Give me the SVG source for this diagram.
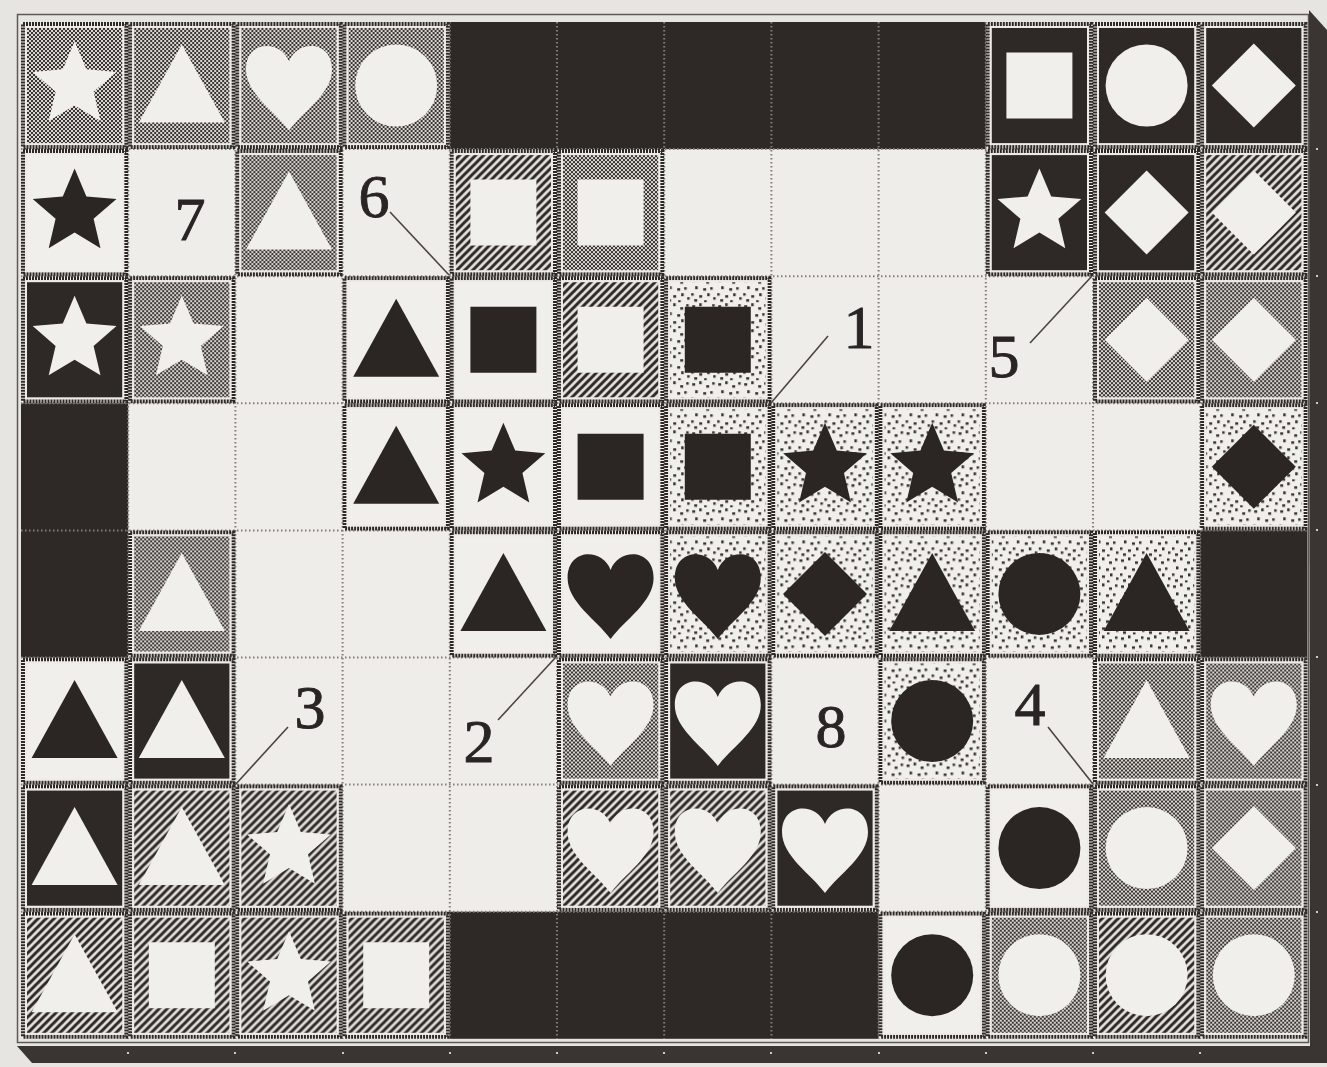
<svg xmlns="http://www.w3.org/2000/svg" xmlns:xlink="http://www.w3.org/1999/xlink" width="1327" height="1067" viewBox="0 0 1327 1067">
<style>
.fw{fill:#f1efec}
.fb{fill:#2b2624}
.dk{fill:#2e2927}
.grid line{stroke:#837d7a;stroke-width:2;stroke-dasharray:1.5 2.5}
.lead{stroke:#4a4543;stroke-width:1.6;fill:none}
.lbl{font-family:"Liberation Serif","Times New Roman",serif;font-size:62px;fill:#2a2524;stroke:#2a2524;stroke-width:0.9;text-anchor:middle}
.tick{fill:#cfcbc7}
</style>
<defs>
<pattern id="pGray" width="4" height="4" patternUnits="userSpaceOnUse"><rect width="4" height="4" fill="#d9d6d2"/><rect width="2" height="2" fill="#3a3533"/><rect x="2" y="2" width="2" height="2" fill="#3a3533"/></pattern>
<pattern id="pHatch" width="8" height="8" patternUnits="userSpaceOnUse"><rect width="8" height="8" fill="#e4e1dd"/><path d="M-2,2 L2,-2 M0,8 L8,0 M6,10 L10,6" stroke="#2e2927" stroke-width="3"/></pattern>
<pattern id="pDots" width="26" height="26" patternUnits="userSpaceOnUse"><rect width="26" height="26" fill="#f1efec"/><g fill="#3a3533"><rect x="2" y="3" width="3" height="2.5"/><rect x="9" y="1" width="2.5" height="3"/><rect x="16" y="5" width="3" height="2.5"/><rect x="22" y="2" width="2.5" height="2.5"/><rect x="5" y="10" width="2.5" height="3"/><rect x="13" y="12" width="3" height="2.5"/><rect x="20" y="11" width="2.5" height="2.5"/><rect x="1" y="17" width="2.5" height="2.5"/><rect x="9" y="19" width="3" height="2.5"/><rect x="17" y="17" width="2.5" height="3"/><rect x="23" y="21" width="2.5" height="2.5"/><rect x="4" y="23" width="3" height="2.5"/><rect x="14" y="24" width="2.5" height="2"/></g></pattern>
<g id="tGray"><rect x="2" y="2" width="103.2" height="123.1" fill="none" stroke="#2e2927" stroke-width="4" stroke-dasharray="2 1"/><rect x="5" y="5" width="97.2" height="117.1" fill="url(#pGray)" stroke="#eeebe7" stroke-width="2"/></g>
<g id="tHatch"><rect x="2" y="2" width="103.2" height="123.1" fill="none" stroke="#2e2927" stroke-width="4" stroke-dasharray="2 1"/><rect x="5" y="5" width="97.2" height="117.1" fill="url(#pHatch)" stroke="#eeebe7" stroke-width="2"/></g>
<g id="tDots"><rect x="2" y="2" width="103.2" height="123.1" fill="none" stroke="#2e2927" stroke-width="4" stroke-dasharray="2 1"/><rect x="5" y="5" width="97.2" height="117.1" fill="url(#pDots)" stroke="#eeebe7" stroke-width="2"/></g>
<g id="tDark"><rect x="2" y="2" width="103.2" height="123.1" fill="none" stroke="#2e2927" stroke-width="4" stroke-dasharray="2 1"/><rect x="5" y="5" width="97.2" height="117.1" fill="#2e2927" stroke="#eeebe7" stroke-width="2"/></g>
<g id="tWhite"><rect x="2" y="2" width="103.2" height="123.1" fill="none" stroke="#2e2927" stroke-width="4" stroke-dasharray="2 1"/><rect x="5" y="5" width="97.2" height="117.1" fill="#f1efec" stroke="#eeebe7" stroke-width="2"/></g>
<path id="shStar" d="M0,-44 L11.8,-16.2 L41.9,-13.6 L19,6.2 L25.9,35.6 L0,20 L-25.9,35.6 L-19,6.2 L-41.9,-13.6 L-11.8,-16.2Z"/>
<path id="shTri" d="M0,-41 L43,37 L-43,37Z"/>
<path id="shHeart" d="M0,-24 C-8,-46 -43,-46 -43,-16 C-43,8 -14,26 0,45 C14,26 43,8 43,-16 C43,-46 8,-46 0,-24Z"/>
<circle id="shCirc" r="41"/>
<path id="shSq" d="M-33,-33h66v66h-66z"/>
<path id="shDiam" d="M0,-42 L42,0 L0,42 L-42,0Z"/>
</defs>
<rect width="1327" height="1067" fill="#e7e5e2"/>
<g id="frame">
<rect x="21" y="22" width="1286.4" height="1016.8" fill="#efedea"/>
<rect x="17.5" y="14.5" width="1291" height="1028" fill="none" stroke="#5e5957" stroke-width="1.5"/>
<polygon points="1309,10 1327,30 1327,1062 1310,1046" fill="#3a3533"/>
<polygon points="17,1046 1312,1046 1327,1058 1327,1063 32,1063" fill="#3a3533"/>
<g class="tick"><rect x="127" y="1052" width="2" height="2"/><rect x="234" y="1052" width="2" height="2"/><rect x="342" y="1052" width="2" height="2"/><rect x="449" y="1052" width="2" height="2"/><rect x="556" y="1052" width="2" height="2"/><rect x="663" y="1052" width="2" height="2"/><rect x="770" y="1052" width="2" height="2"/><rect x="878" y="1052" width="2" height="2"/><rect x="985" y="1052" width="2" height="2"/><rect x="1092" y="1052" width="2" height="2"/><rect x="1199" y="1052" width="2" height="2"/><rect x="1316" y="148" width="2" height="2"/><rect x="1316" y="275" width="2" height="2"/><rect x="1316" y="402" width="2" height="2"/><rect x="1316" y="529" width="2" height="2"/><rect x="1316" y="656" width="2" height="2"/><rect x="1316" y="784" width="2" height="2"/><rect x="1316" y="911" width="2" height="2"/></g>
</g>
<g id="dark-cells" class="dk">
<rect x="449.8" y="22" width="536" height="127.1"/>
<rect x="449.8" y="911.7" width="428.8" height="127.1"/>
<rect x="21" y="403.3" width="107.2" height="254.2"/>
<rect x="1200.2" y="530.4" width="107.2" height="127.1"/>
</g>
<g class="grid">
<line x1="128.2" y1="22" x2="128.2" y2="1038.8"/><line x1="235.4" y1="22" x2="235.4" y2="1038.8"/><line x1="342.6" y1="22" x2="342.6" y2="1038.8"/><line x1="449.8" y1="22" x2="449.8" y2="1038.8"/><line x1="557" y1="22" x2="557" y2="1038.8"/><line x1="664.2" y1="22" x2="664.2" y2="1038.8"/><line x1="771.4" y1="22" x2="771.4" y2="1038.8"/><line x1="878.6" y1="22" x2="878.6" y2="1038.8"/><line x1="985.8" y1="22" x2="985.8" y2="1038.8"/><line x1="1093" y1="22" x2="1093" y2="1038.8"/><line x1="1200.2" y1="22" x2="1200.2" y2="1038.8"/>
<line x1="21" y1="149.1" x2="1307.4" y2="149.1"/><line x1="21" y1="276.2" x2="1307.4" y2="276.2"/><line x1="21" y1="403.3" x2="1307.4" y2="403.3"/><line x1="21" y1="530.4" x2="1307.4" y2="530.4"/><line x1="21" y1="657.5" x2="1307.4" y2="657.5"/><line x1="21" y1="784.6" x2="1307.4" y2="784.6"/><line x1="21" y1="911.7" x2="1307.4" y2="911.7"/>
</g>
<g id="tiles">
<g id="n-r0c0" transform="translate(21,22)"><use href="#tGray"/><use href="#shStar" class="fw" x="53.6" y="63.5"/></g>
<g id="n-r0c1" transform="translate(128.2,22)"><use href="#tGray"/><use href="#shTri" class="fw" x="53.6" y="63.5"/></g>
<g id="n-r0c2" transform="translate(235.4,22)"><use href="#tGray"/><use href="#shHeart" class="fw" x="53.6" y="63.5"/></g>
<g id="n-r0c3" transform="translate(342.6,22)"><use href="#tGray"/><use href="#shCirc" class="fw" x="53.6" y="63.5"/></g>
<g id="n-r0c9" transform="translate(985.8,22)"><use href="#tDark"/><use href="#shSq" class="fw" x="53.6" y="63.5"/></g>
<g id="n-r0c10" transform="translate(1093,22)"><use href="#tDark"/><use href="#shCirc" class="fw" x="53.6" y="63.5"/></g>
<g id="n-r0c11" transform="translate(1200.2,22)"><use href="#tDark"/><use href="#shDiam" class="fw" x="53.6" y="63.5"/></g>

<g id="n-r1c0" transform="translate(21,149.1)"><use href="#tWhite"/><use href="#shStar" class="fb" x="53.6" y="63.5"/></g>
<g id="n-r1c2" transform="translate(235.4,149.1)"><use href="#tGray"/><use href="#shTri" class="fw" x="53.6" y="63.5"/></g>
<g id="n-r1c4" transform="translate(449.8,149.1)"><use href="#tHatch"/><use href="#shSq" class="fw" x="53.6" y="63.5"/></g>
<g id="n-r1c5" transform="translate(557,149.1)"><use href="#tGray"/><use href="#shSq" class="fw" x="53.6" y="63.5"/></g>
<g id="n-r1c9" transform="translate(985.8,149.1)"><use href="#tDark"/><use href="#shStar" class="fw" x="53.6" y="63.5"/></g>
<g id="n-r1c10" transform="translate(1093,149.1)"><use href="#tDark"/><use href="#shDiam" class="fw" x="53.6" y="63.5"/></g>
<g id="n-r1c11" transform="translate(1200.2,149.1)"><use href="#tHatch"/><use href="#shDiam" class="fw" x="53.6" y="63.5"/></g>

<g id="n-r2c0" transform="translate(21,276.2)"><use href="#tDark"/><use href="#shStar" class="fw" x="53.6" y="63.5"/></g>
<g id="n-r2c1" transform="translate(128.2,276.2)"><use href="#tGray"/><use href="#shStar" class="fw" x="53.6" y="63.5"/></g>
<g id="n-r2c3" transform="translate(342.6,276.2)"><use href="#tWhite"/><use href="#shTri" class="fb" x="53.6" y="63.5"/></g>
<g id="n-r2c4" transform="translate(449.8,276.2)"><use href="#tWhite"/><use href="#shSq" class="fb" x="53.6" y="63.5"/></g>
<g id="n-r2c5" transform="translate(557,276.2)"><use href="#tHatch"/><use href="#shSq" class="fw" x="53.6" y="63.5"/></g>
<g id="n-r2c6" transform="translate(664.2,276.2)"><use href="#tDots"/><use href="#shSq" class="fb" x="53.6" y="63.5"/></g>
<g id="n-r2c10" transform="translate(1093,276.2)"><use href="#tGray"/><use href="#shDiam" class="fw" x="53.6" y="63.5"/></g>
<g id="n-r2c11" transform="translate(1200.2,276.2)"><use href="#tGray"/><use href="#shDiam" class="fw" x="53.6" y="63.5"/></g>

<g id="n-r3c3" transform="translate(342.6,403.3)"><use href="#tWhite"/><use href="#shTri" class="fb" x="53.6" y="63.5"/></g>
<g id="n-r3c4" transform="translate(449.8,403.3)"><use href="#tWhite"/><use href="#shStar" class="fb" x="53.6" y="63.5"/></g>
<g id="n-r3c5" transform="translate(557,403.3)"><use href="#tWhite"/><use href="#shSq" class="fb" x="53.6" y="63.5"/></g>
<g id="n-r3c6" transform="translate(664.2,403.3)"><use href="#tDots"/><use href="#shSq" class="fb" x="53.6" y="63.5"/></g>
<g id="n-r3c7" transform="translate(771.4,403.3)"><use href="#tDots"/><use href="#shStar" class="fb" x="53.6" y="63.5"/></g>
<g id="n-r3c8" transform="translate(878.6,403.3)"><use href="#tDots"/><use href="#shStar" class="fb" x="53.6" y="63.5"/></g>
<g id="n-r3c11" transform="translate(1200.2,403.3)"><use href="#tDots"/><use href="#shDiam" class="fb" x="53.6" y="63.5"/></g>

<g id="n-r4c1" transform="translate(128.2,530.4)"><use href="#tGray"/><use href="#shTri" class="fw" x="53.6" y="63.5"/></g>
<g id="n-r4c4" transform="translate(449.8,530.4)"><use href="#tWhite"/><use href="#shTri" class="fb" x="53.6" y="63.5"/></g>
<g id="n-r4c5" transform="translate(557,530.4)"><use href="#tWhite"/><use href="#shHeart" class="fb" x="53.6" y="63.5"/></g>
<g id="n-r4c6" transform="translate(664.2,530.4)"><use href="#tDots"/><use href="#shHeart" class="fb" x="53.6" y="63.5"/></g>
<g id="n-r4c7" transform="translate(771.4,530.4)"><use href="#tDots"/><use href="#shDiam" class="fb" x="53.6" y="63.5"/></g>
<g id="n-r4c8" transform="translate(878.6,530.4)"><use href="#tDots"/><use href="#shTri" class="fb" x="53.6" y="63.5"/></g>
<g id="n-r4c9" transform="translate(985.8,530.4)"><use href="#tDots"/><use href="#shCirc" class="fb" x="53.6" y="63.5"/></g>
<g id="n-r4c10" transform="translate(1093,530.4)"><use href="#tDots"/><use href="#shTri" class="fb" x="53.6" y="63.5"/></g>

<g id="n-r5c0" transform="translate(21,657.5)"><use href="#tWhite"/><use href="#shTri" class="fb" x="53.6" y="63.5"/></g>
<g id="n-r5c1" transform="translate(128.2,657.5)"><use href="#tDark"/><use href="#shTri" class="fw" x="53.6" y="63.5"/></g>
<g id="n-r5c5" transform="translate(557,657.5)"><use href="#tGray"/><use href="#shHeart" class="fw" x="53.6" y="63.5"/></g>
<g id="n-r5c6" transform="translate(664.2,657.5)"><use href="#tDark"/><use href="#shHeart" class="fw" x="53.6" y="63.5"/></g>
<g id="n-r5c8" transform="translate(878.6,657.5)"><use href="#tDots"/><use href="#shCirc" class="fb" x="53.6" y="63.5"/></g>
<g id="n-r5c10" transform="translate(1093,657.5)"><use href="#tGray"/><use href="#shTri" class="fw" x="53.6" y="63.5"/></g>
<g id="n-r5c11" transform="translate(1200.2,657.5)"><use href="#tGray"/><use href="#shHeart" class="fw" x="53.6" y="63.5"/></g>

<g id="n-r6c0" transform="translate(21,784.6)"><use href="#tDark"/><use href="#shTri" class="fw" x="53.6" y="63.5"/></g>
<g id="n-r6c1" transform="translate(128.2,784.6)"><use href="#tHatch"/><use href="#shTri" class="fw" x="53.6" y="63.5"/></g>
<g id="n-r6c2" transform="translate(235.4,784.6)"><use href="#tHatch"/><use href="#shStar" class="fw" x="53.6" y="63.5"/></g>
<g id="n-r6c5" transform="translate(557,784.6)"><use href="#tHatch"/><use href="#shHeart" class="fw" x="53.6" y="63.5"/></g>
<g id="n-r6c6" transform="translate(664.2,784.6)"><use href="#tHatch"/><use href="#shHeart" class="fw" x="53.6" y="63.5"/></g>
<g id="n-r6c7" transform="translate(771.4,784.6)"><use href="#tDark"/><use href="#shHeart" class="fw" x="53.6" y="63.5"/></g>
<g id="n-r6c9" transform="translate(985.8,784.6)"><use href="#tWhite"/><use href="#shCirc" class="fb" x="53.6" y="63.5"/></g>
<g id="n-r6c10" transform="translate(1093,784.6)"><use href="#tGray"/><use href="#shCirc" class="fw" x="53.6" y="63.5"/></g>
<g id="n-r6c11" transform="translate(1200.2,784.6)"><use href="#tGray"/><use href="#shDiam" class="fw" x="53.6" y="63.5"/></g>

<g id="n-r7c0" transform="translate(21,911.7)"><use href="#tHatch"/><use href="#shTri" class="fw" x="53.6" y="63.5"/></g>
<g id="n-r7c1" transform="translate(128.2,911.7)"><use href="#tHatch"/><use href="#shSq" class="fw" x="53.6" y="63.5"/></g>
<g id="n-r7c2" transform="translate(235.4,911.7)"><use href="#tHatch"/><use href="#shStar" class="fw" x="53.6" y="63.5"/></g>
<g id="n-r7c3" transform="translate(342.6,911.7)"><use href="#tHatch"/><use href="#shSq" class="fw" x="53.6" y="63.5"/></g>
<g id="n-r7c8" transform="translate(878.6,911.7)"><use href="#tWhite"/><use href="#shCirc" class="fb" x="53.6" y="63.5"/></g>
<g id="n-r7c9" transform="translate(985.8,911.7)"><use href="#tGray"/><use href="#shCirc" class="fw" x="53.6" y="63.5"/></g>
<g id="n-r7c10" transform="translate(1093,911.7)"><use href="#tHatch"/><use href="#shCirc" class="fw" x="53.6" y="63.5"/></g>
<g id="n-r7c11" transform="translate(1200.2,911.7)"><use href="#tGray"/><use href="#shCirc" class="fw" x="53.6" y="63.5"/></g>
</g>
<g id="connectors" class="lead">
<line x1="390" y1="212" x2="449" y2="275"/>
<line x1="828" y1="336" x2="771" y2="403"/>
<line x1="1030" y1="343" x2="1092" y2="276"/>
<line x1="498" y1="720" x2="556" y2="657"/>
<line x1="288" y1="727" x2="235" y2="785"/>
<line x1="1048" y1="727" x2="1093" y2="784"/>
</g>
<g id="labels" class="lbl">
<text x="190" y="240">7</text>
<text x="374" y="217">6</text>
<text x="859" y="348">1</text>
<text x="1004" y="377">5</text>
<text x="479" y="762">2</text>
<text x="310" y="728">3</text>
<text x="831" y="747">8</text>
<text x="1030" y="725">4</text>
</g>
</svg>
